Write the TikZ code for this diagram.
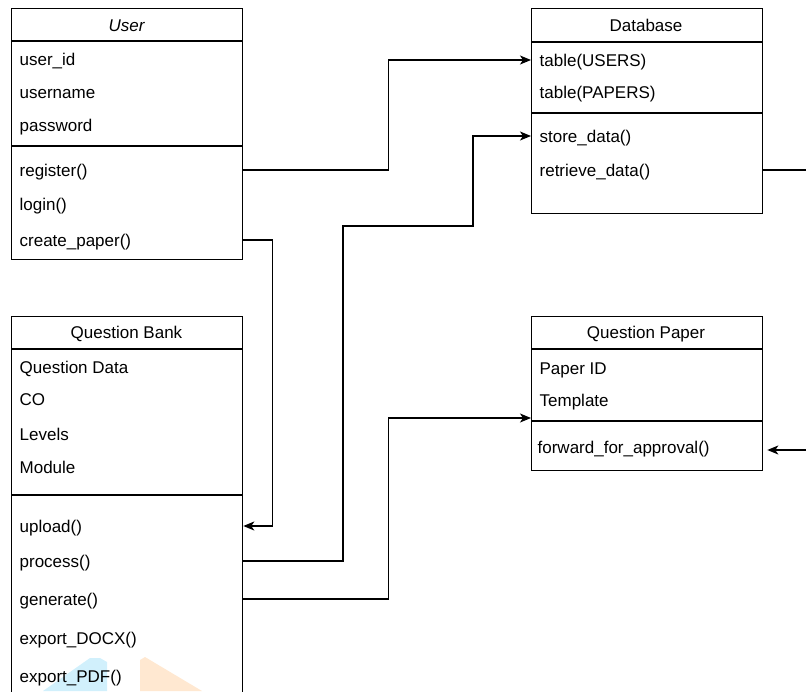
\documentclass[tikz,border=0pt]{standalone}
\usepackage{fontspec}
\setmainfont{Liberation Sans}
\usetikzlibrary{positioning,calc,arrows.meta}

\begin{document}
\begin{tikzpicture}[x=1pt,y=-1pt,line width=1.3pt,
    classbox/.style={draw,rectangle,anchor=north west,inner sep=0pt,minimum width=231pt},
    head/.style={inner sep=0pt,text height=12pt,text depth=0pt,font=\fontsize{17}{20}\selectfont},
    attr/.style={anchor=west,inner sep=0pt,text height=12pt,text depth=0pt,font=\fontsize{17}{20}\selectfont},
    arr/.style={-{Stealth[length=11pt,width=9pt,inset=3pt]}}]
        \path[use as bounding box,clip] (0,0) rectangle (806,691);
        \fill[cyan!18] (43,691) -- (90,658) -- (100,658) -- (107,662) -- (107,691) -- cycle;
        \fill[orange!18] (140,691) -- (140,660) -- (145,657) -- (202,691) -- cycle;

        \node[classbox,minimum height=251pt] at (11,8) (user) {};
        \node[classbox,minimum height=205pt] at (531,8) (database) {};
        \node[classbox,minimum height=400pt] at (11,316) (qbank) {};
        \node[classbox,minimum height=154pt] at (531,316) (qpaper) {};

        \draw(user.west |- 0,41) -- (user.east |- 0,41);
        \draw(user.west |- 0,146) -- (user.east |- 0,146);
        \draw(database.west |- 0,42) -- (database.east |- 0,42);
        \draw(database.west |- 0,113) -- (database.east |- 0,113);
        \draw(qbank.west |- 0,349) -- (qbank.east |- 0,349);
        \draw(qbank.west |- 0,495) -- (qbank.east |- 0,495);
        \draw(qpaper.west |- 0,349) -- (qpaper.east |- 0,349);
        \draw(qpaper.west |- 0,421) -- (qpaper.east |- 0,421);

        \node[head] at (126.5,25) (usertitle) {\itshape User};
        \node[attr] at (19,59) (userid) {user\_id};
        \node[attr] at (19,92) (username) {username};
        \node[attr] at (19,125) (password) {password};
        \node[attr] at (19,170) (register) {register()};
        \node[attr] at (19,204) (login) {login()};
        \node[attr] at (19,240) (createpaper) {create\_paper()};

        \node[head] at (646,25) (dbtitle) {Database};
        \node[attr] at (539,60) (tusers) {table(USERS)};
        \node[attr] at (539,92) (tpapers) {table(PAPERS)};
        \node[attr] at (539,136) (storedata) {store\_data()};
        \node[attr] at (539,170) (retrievedata) {retrieve\_data()};

        \node[head] at (126.5,332) (qbtitle) {Question Bank};
        \node[attr] at (19,367) (qdata) {Question Data};
        \node[attr] at (19,399) (co) {CO};
        \node[attr] at (19,434) (levels) {Levels};
        \node[attr] at (19,467) (module) {Module};
        \node[attr] at (19,526) (upload) {upload()};
        \node[attr] at (19,561) (process) {process()};
        \node[attr] at (19,599) (generate) {generate()};
        \node[attr] at (19,638) (exportdocx) {export\_DOCX()};
        \node[attr] at (19,676) (exportpdf) {export\_PDF()};

        \node[head] at (646,332) (qptitle) {Question Paper};
        \node[attr] at (539,368) (paperid) {Paper ID};
        \node[attr] at (539,400) (template) {Template};
        \node[attr] at (537,447) (forward) {forward\_for\_approval()};

        \coordinate (qpin) at (531,418);
        \coordinate (dbout) at (806,170);
        \coordinate (qpfrom) at (806,450);

        \draw[arr](user.east |- register) -- ++(145,0) |- (database.west |- tusers);
        \draw[arr](user.east |- createpaper) -- ++(29,0) |- (qbank.east |- upload);
        \draw[arr](qbank.east |- process) -| (343,226) -- (473,226) |- (database.west |- storedata);
        \draw[arr](qbank.east |- generate) -- ++(145,0) |- (qpin);
        \draw(database.east |- retrievedata) -- (dbout);
        \draw[arr](qpfrom) -- ([xshift=4pt]qpaper.east |- qpfrom);
    \end{tikzpicture}
\end{document}
